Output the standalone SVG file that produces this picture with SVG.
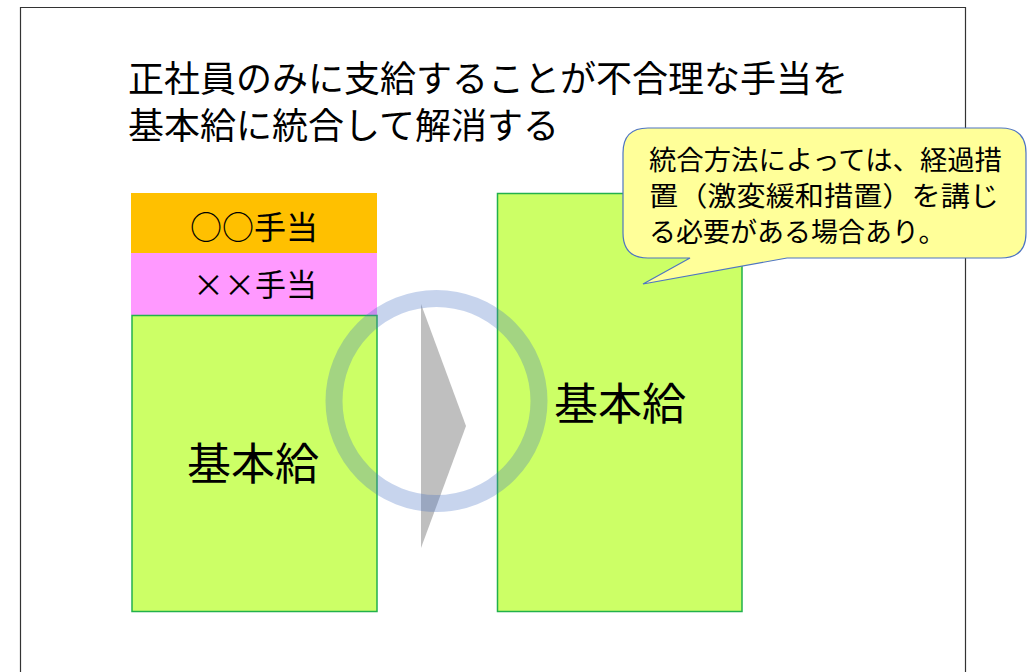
<svg xmlns="http://www.w3.org/2000/svg" width="1031" height="672" viewBox="0 0 1031 672">
<defs>
<style>
.t{font-family:"Noto Sans CJK JP","Noto Sans",sans-serif;fill:#000;}
.box{stroke:#22b14c;stroke-width:1.5;}
</style>
</defs>
<rect x="0" y="0" width="1031" height="672" fill="#ffffff"/>
<g id="frame">
<path d="M20.5,672 V7.5 H965.5 V672" fill="none" stroke="#333" stroke-width="1.2"/>
</g>
<g id="title">
<text class="t" x="128" y="92" font-size="36" textLength="720" lengthAdjust="spacingAndGlyphs">正社員のみに支給することが不合理な手当を</text>
<text class="t" x="128" y="139" font-size="36">基本給に統合して解消する</text>
</g>
<g id="left-stack">
<rect x="131" y="193" width="246" height="60" fill="#ffc000"/>
<text class="t" x="254" y="239" font-size="32" text-anchor="middle">○○手当</text>
<rect x="131" y="253" width="246" height="62" fill="#ff99ff"/>
<text class="t" x="255" y="296" font-size="31" text-anchor="middle">××手当</text>
</g>
<g id="left-base">
<rect class="box" x="132" y="315.5" width="245" height="296" fill="#ccff66"/>
<text class="t" x="253" y="480" font-size="44" text-anchor="middle">基本給</text>
</g>
<g id="right-base">
<rect class="box" x="497.5" y="193.5" width="244.5" height="418" fill="#ccff66"/>
<text class="t" x="620" y="420" font-size="44" text-anchor="middle">基本給</text>
</g>
<g id="connectors">
<polygon points="421,304 466,426 421,548" fill="#bfbfbf"/>
<circle cx="436.5" cy="401" r="102.5" fill="none" stroke="#4472c4" stroke-opacity="0.3" stroke-width="17"/>
</g>
<g id="callout">
<path d="M648,128 H1001 Q1026,128 1026,153 V233 Q1026,258 1001,258 H787 L643,284 L690,258 H648 Q623,258 623,233 V153 Q623,128 648,128 Z" fill="#ffff99" stroke="#4f75c2" stroke-width="1.2"/>
<text class="t" x="649" y="170" font-size="27" textLength="353" lengthAdjust="spacingAndGlyphs">統合方法によっては、経過措</text>
<text class="t" x="649" y="206" font-size="27" textLength="350" lengthAdjust="spacingAndGlyphs">置（激変緩和措置）を講じ</text>
<text class="t" x="649" y="242" font-size="27">る必要がある場合あり。</text>
</g>
</svg>
